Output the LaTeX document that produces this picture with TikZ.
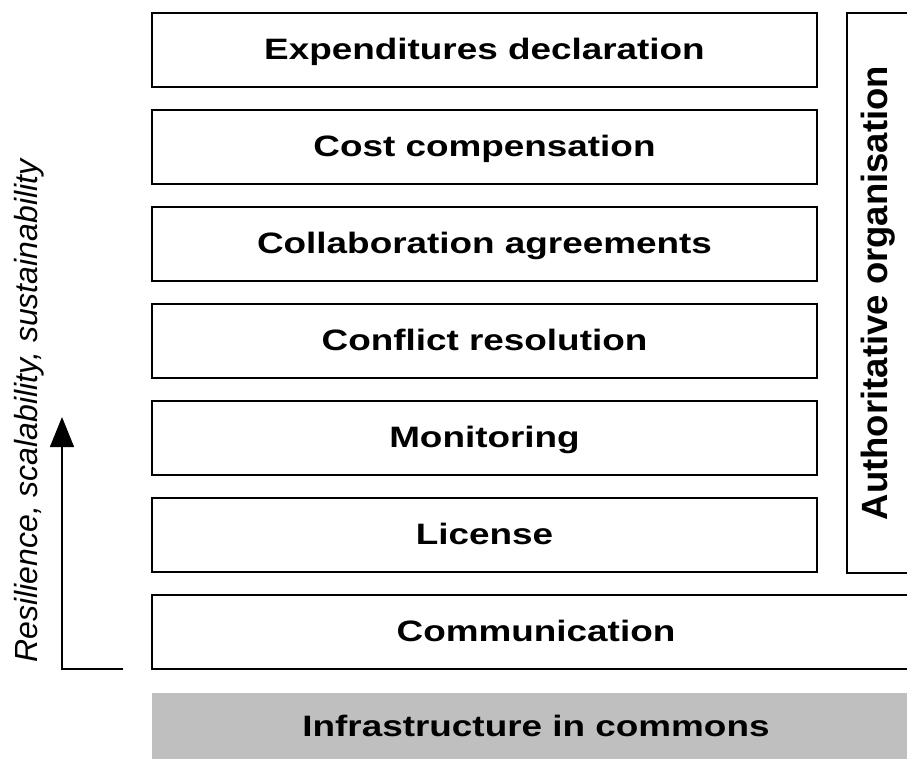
\documentclass[tikz,border=0pt]{standalone}
\usepackage{fontspec}
\setmainfont{Liberation Sans}
\newfontfamily\layerfont[FakeStretch=1.25]{Liberation Sans}
\usetikzlibrary{arrows.meta,positioning}

\definecolor{infragray}{gray}{0.75}

\begin{document}
\begin{tikzpicture}[x=1pt,y=-1pt,node distance=23pt,
    layer/.style={draw,line width=1.3pt,minimum width=665pt,minimum height=74pt,
      inner sep=0pt,outer sep=0pt,text height=23pt,text depth=5pt,
      font=\layerfont\fontsize{29.5}{29.5}\selectfont\bfseries},
    base/.style={fill=infragray,minimum width=768pt,minimum height=68pt,
      inner sep=0pt,outer sep=0pt,text height=23pt,text depth=5pt,
      font=\layerfont\fontsize{29.5}{29.5}\selectfont\bfseries}]
  \useasboundingbox (0,0) rectangle (907,758);
  \clip (0,0) rectangle (907,758);
  % stack of layers
  \node[layer] (expend) at (484.5,50) {Expenditures declaration};
  \node[layer,below=of expend] (cost) {Cost compensation};
  \node[layer,below=of cost] (collab) {Collaboration agreements};
  \node[layer,below=of collab] (conflict) {Conflict resolution};
  \node[layer,below=of conflict] (monitor) {Monitoring};
  \node[layer,below=of monitor] (license) {License};
  \node[layer,minimum width=768pt,anchor=north west] (comm)
    at ([yshift=-23pt]license.south west) {Communication};
  \node[base,anchor=north west] (infra)
    at ([yshift=-24pt]comm.south west) {Infrastructure in commons};
  % side column
  \node[draw,line width=1.3pt,rotate=90,minimum width=560pt,minimum height=62pt,
    inner sep=0pt,font=\fontsize{36.5}{36.5}\selectfont\bfseries] (auth)
    at (878,293) {Authoritative organisation};
  % axis
  \coordinate (foot) at (123,669);
  \coordinate (tip) at (62,417);
  \draw[line width=1.3pt,-{Triangle[width=24pt,length=30pt]}]
    (foot) -- (foot -| tip) -- (tip);
  \node[rotate=90,anchor=base,inner sep=0pt,
    font=\fontsize{32}{32}\selectfont\itshape] (axis)
    at (37,411) {Resilience, scalability, sustainability};
\end{tikzpicture}
\end{document}
